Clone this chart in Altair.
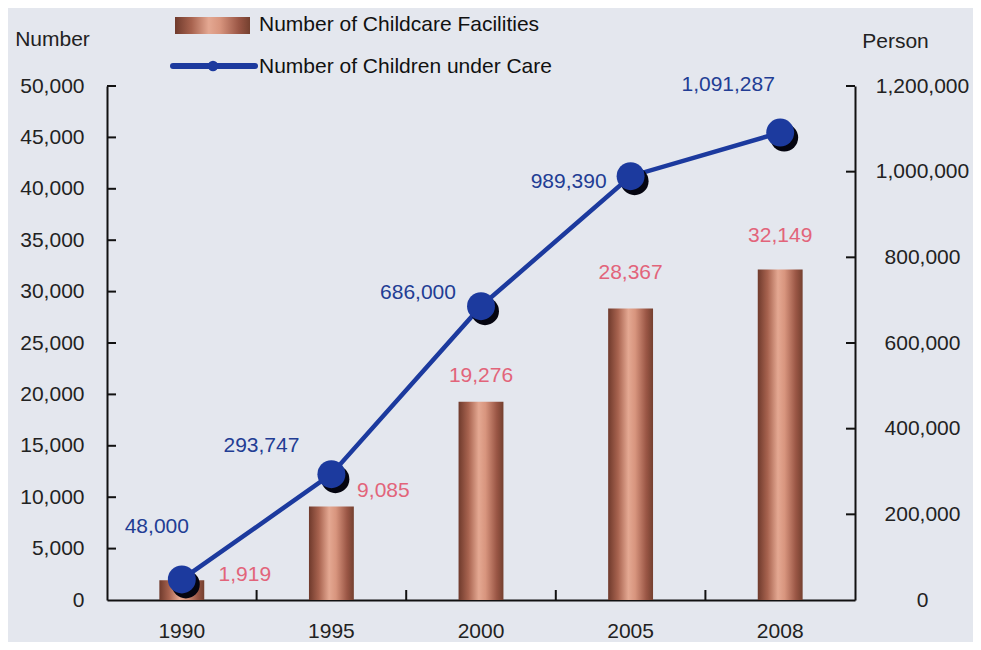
import altair as alt
import pandas as pd

years = ["1990", "1995", "2000", "2005", "2008"]
facilities = [1919, 9085, 19276, 28367, 32149]
children = [48000, 293747, 686000, 989390, 1091287]
left_ticks = [5000, 10000, 15000, 20000, 25000, 30000, 35000, 40000, 45000, 50000]
right_ticks = [200000, 400000, 600000, 800000, 1000000, 1200000]
left_tick_labels = [0, 5000, 10000, 15000, 20000, 25000, 30000, 35000, 40000, 45000, 50000]
right_tick_labels = [0, 200000, 400000, 600000, 800000, 1000000, 1200000]
legend_bar = "Number of Childcare Facilities"
legend_line = "Number of Children under Care"

df = pd.DataFrame({"year": years, "facilities": facilities, "children": children})
ltick_df = pd.DataFrame({"facilities": left_ticks})
rtick_df = pd.DataFrame({"children": right_ticks})
one = pd.DataFrame({"a": [0]})

W, H = 748, 514
FONT = "Liberation Sans"
FS = 21
BLUE = "#1c3a9e"
PINK = "#e2647a"

# label offsets (styling)
blue_off = {"1990": (-25, -52), "1995": (-70, -28), "2000": (-63, -13), "2005": (-62, 6), "2008": (-52, -48)}
pink_off = {"1990": (63, -5), "1995": (52, -16), "2000": (0, -26), "2005": (0, -35), "2008": (0, -34)}

bar_grad = alt.Gradient(
    gradient="linear", x1=0, x2=1, y1=0, y2=0,
    stops=[
        alt.GradientStop(offset=0, color="#6f3a2c"),
        alt.GradientStop(offset=0.22, color="#a8634f"),
        alt.GradientStop(offset=0.45, color="#e4a892"),
        alt.GradientStop(offset=0.6, color="#d8957e"),
        alt.GradientStop(offset=0.85, color="#9a5645"),
        alt.GradientStop(offset=1, color="#74402f"),
    ],
)

xscale = alt.Scale(domain=years, paddingInner=0.7, paddingOuter=0.35)
lscale = alt.Scale(domain=[0, 50000])
rscale = alt.Scale(domain=[0, 1200000])

xaxis = alt.Axis(
    title=None, labelAngle=0, ticks=False, tickSize=0, domainColor="#111", domainWidth=2,
    labelFont=FONT, labelFontSize=FS, labelColor="#222", labelBaseline="alphabetic",
    labelPadding=37, grid=False,
)
laxis = alt.Axis(
    title="Number", titleAngle=0, titleX=-55, titleY=-47, titleAlign="center",
    titleBaseline="middle", titleFont=FONT, titleFontSize=FS, titleFontWeight="normal",
    titleColor="#222", values=left_tick_labels, format=",d", ticks=False, tickSize=0,
    labelPadding=23, labelFont=FONT, labelFontSize=FS, labelColor="#222",
    domainColor="#111", domainWidth=2, grid=False,
)
raxis = alt.Axis(
    orient="right", title="Person", titleAngle=0, titleX=40, titleY=-45, titleAlign="center",
    titleBaseline="middle", titleFont=FONT, titleFontSize=FS, titleFontWeight="normal",
    titleColor="#222", values=right_tick_labels, format=",d", ticks=False, tickSize=0,
    labelPadding=67, labelAlign="center", labelFont=FONT, labelFontSize=FS, labelColor="#222",
    domainColor="#111", domainWidth=2, grid=False,
)

X = alt.X("year:N", scale=xscale, axis=xaxis)
YL = alt.Y("facilities:Q", scale=lscale, axis=laxis)
YR = alt.Y("children:Q", scale=rscale, axis=raxis)

base = alt.Chart(df)

bars = base.mark_bar(color=bar_grad).encode(x=X, y=YL)

pink_layers = []
for y in years:
    dx, dy = pink_off[y]
    pink_layers.append(
        base.transform_filter(alt.datum.year == y).mark_text(
            font=FONT, fontSize=FS, color=PINK, dx=dx, dy=dy, align="center", baseline="middle"
        ).encode(x=X, y=YL, text=alt.Text("facilities:Q", format=",d"))
    )

lticks = alt.Chart(ltick_df).mark_rule(color="#111", strokeWidth=2).encode(
    y=YL, x=alt.value(0), x2=alt.value(9)
)

xticks = base.transform_filter(alt.datum.year != "2008").mark_rule(
    color="#111", strokeWidth=2, xOffset=W / 10
).encode(x=X, y=alt.value(H), y2=alt.value(H - 10))

# legend
leg_rect = alt.Chart(one).mark_rect(color=bar_grad).encode(
    x=alt.value(68), x2=alt.value(143), y=alt.value(-69), y2=alt.value(-52)
)
leg_t1 = alt.Chart(one).mark_text(
    text=legend_bar, font=FONT, fontSize=FS, color="#111", align="left", baseline="middle"
).encode(x=alt.value(152), y=alt.value(-61))
leg_line = alt.Chart(one).mark_rule(color=BLUE, strokeWidth=6, strokeCap="round").encode(
    x=alt.value(66), x2=alt.value(148), y=alt.value(-20)
)
leg_dot = alt.Chart(one).mark_circle(color=BLUE, size=110, opacity=1).encode(
    x=alt.value(106), y=alt.value(-20)
)
leg_t2 = alt.Chart(one).mark_text(
    text=legend_line, font=FONT, fontSize=FS, color="#111", align="left", baseline="middle"
).encode(x=alt.value(152), y=alt.value(-19))

left = alt.layer(bars, *pink_layers, lticks, xticks, leg_rect, leg_t1, leg_line, leg_dot, leg_t2)

line = base.mark_line(color=BLUE, strokeWidth=4.5).encode(x=X, y=YR)
shadow = base.mark_circle(color="#050510", size=780, opacity=1, xOffset=4, yOffset=5).encode(x=X, y=YR)
pts = base.mark_circle(color=BLUE, size=780, opacity=1).encode(x=X, y=YR)
blue_layers = []
for y in years:
    dx, dy = blue_off[y]
    blue_layers.append(
        base.transform_filter(alt.datum.year == y).mark_text(
            font=FONT, fontSize=FS, color="#223d94", dx=dx, dy=dy, align="center", baseline="middle"
        ).encode(x=X, y=YR, text=alt.Text("children:Q", format=",d"))
    )
rticks = alt.Chart(rtick_df).mark_rule(color="#111", strokeWidth=2).encode(
    y=YR, x=alt.value(W - 9), x2=alt.value(W)
)

right = alt.layer(line, shadow, pts, *blue_layers, rticks)

chart = alt.layer(left, right).resolve_scale(y="independent").properties(
    width=W, height=H,
    background="#e4e7ee",
    autosize=alt.AutoSizeParams(type="none"),
    padding={"left": 99, "top": 78, "right": 118, "bottom": 42},
).configure_view(stroke=None)

chart.save("out.html", embed_options={"renderer": "svg", "actions": False})
